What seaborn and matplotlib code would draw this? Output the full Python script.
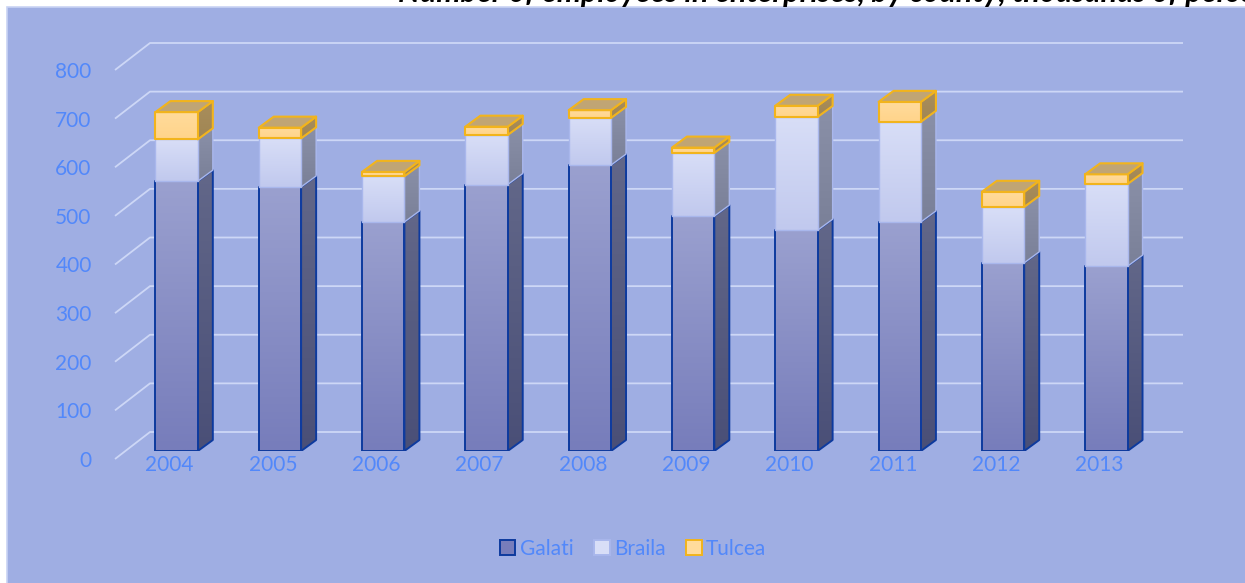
import numpy as np
import pandas as pd
import matplotlib
matplotlib.use("Agg")
import matplotlib.pyplot as plt
import seaborn as sns
from matplotlib.patches import Polygon, Rectangle, Patch
from matplotlib.transforms import ScaledTranslation
from matplotlib.colors import to_rgb

# ---- data -------------------------------------------------------------
years = ["2004", "2005", "2006", "2007", "2008", "2009", "2010", "2011", "2012", "2013"]
galati = [555, 543, 471, 548, 588, 483, 454, 471, 387, 380]
braila = [86, 100, 94, 102, 97, 130, 233, 206, 115, 169]
tulcea = [56, 22, 9, 17, 16, 11, 23, 41, 31, 20]
y_ticks = [0, 100, 200, 300, 400, 500, 600, 700, 800]
series_names = ["Galati", "Braila", "Tulcea"]
title_text = "Number of employees in enterprises, by county, thousands of persons"

# ---- styling ----------------------------------------------------------
W, H, DPI = 1245, 583, 100
BG = "#9FAEE3"
GRID = "#CDD7F6"
TXT = "#5288FA"
DEPTH = (15, 11)  # bar depth offset in pixels (right, up)

styles = {
    "Galati": dict(front=("#9AA0CF", "#777DBB"), side=("#626789", "#4A4F77"),
                   edge="#0D3A9E", lw=1.4),
    "Braila": dict(front=("#D8DEF7", "#C1C9EE"), side=("#8A90A8", "#7A8098"),
                   edge="#A9B7EC", lw=1.0),
    "Tulcea": dict(front=("#FFDB9C", "#FFD48A"), side=("#A98E5C", "#A08654"),
                   top="#C0A574", edge="#F2B41C", lw=1.5),
}

sns.set_style("white")
plt.rcParams["font.family"] = ["Lato", "DejaVu Sans"]

fig = plt.figure(figsize=(W / DPI, H / DPI), dpi=DPI, facecolor="white")
fig.add_artist(Rectangle((7 / W, -0.01), 1.0, 1.01 - 7 / H, transform=fig.transFigure,
                         facecolor=BG, edgecolor="#C9D3F3", lw=1.2, zorder=0))

ax_left, ax_right, ax_bottom, ax_top = 125, 1158, 451, 62
ax = fig.add_axes([ax_left / W, (H - ax_bottom) / H, (ax_right - ax_left) / W,
                   (ax_bottom - ax_top) / H])
ax.set_facecolor("none")
for s in ax.spines.values():
    s.set_visible(False)

galati_a = np.array(galati, dtype=float)
braila_a = np.array(braila, dtype=float)
tulcea_a = np.array(tulcea, dtype=float)
layers = [
    ("Galati", galati_a, np.zeros(len(years))),
    ("Braila", braila_a, galati_a),
    ("Tulcea", tulcea_a, galati_a + braila_a),
]

for name, vals, bottom in layers:
    sns.barplot(x=years, y=vals, bottom=bottom, order=years, ax=ax, width=0.41,
                color=styles[name]["front"][0], saturation=1, errorbar=None)

ax.set_xlim(-0.5, len(years) - 0.5)
ax.set_ylim(0, 800)
ax.set_yticks(y_ticks)
ax.set_xlabel("")
ax.set_ylabel("")

tD = ax.transData
inv = tD.inverted()


def gradient(c_top, c_bot, n=64):
    a, b = np.array(to_rgb(c_top)), np.array(to_rgb(c_bot))
    t = np.linspace(0, 1, n)[:, None]
    return (a * (1 - t) + b * t)[:, None, :]


def offset_poly(pts_data, shifts):
    disp = tD.transform(pts_data)
    disp = disp + np.array(shifts)
    return inv.transform(disp)


dx, dy = DEPTH
n = len(years)
bars = list(ax.patches)
for k, (name, vals, bottom) in enumerate(layers):
    st = styles[name]
    top_layer = k == len(layers) - 1
    for i in range(n):
        rect = bars[k * n + i]
        x0, y0 = rect.get_x(), rect.get_y()
        x1, y1 = x0 + rect.get_width(), y0 + rect.get_height()
        zb = 3 + 4 * k

        # right side face
        side = offset_poly([(x1, y0), (x1, y1), (x1, y1), (x1, y0)],
                           [(0, 0), (0, 0), (dx, dy), (dx, dy)])
        side_poly = Polygon(side, closed=True, facecolor="none", edgecolor=st["edge"],
                            lw=st["lw"], joinstyle="round", zorder=zb + 1)
        ax.add_patch(side_poly)
        im = ax.imshow(gradient(*st["side"]), extent=(side[:, 0].min(), side[:, 0].max(),
                                                     side[:, 1].min(), side[:, 1].max()),
                       aspect="auto", interpolation="bilinear", zorder=zb)
        im.set_clip_path(side_poly)

        # front face
        rect.set_facecolor("none")
        rect.set_edgecolor(st["edge"])
        rect.set_linewidth(st["lw"])
        rect.set_joinstyle("round")
        rect.set_zorder(zb + 3)
        im = ax.imshow(gradient(*st["front"]), extent=(x0, x1, y0, y1), aspect="auto",
                       interpolation="bilinear", zorder=zb + 2)
        im.set_clip_path(rect)

        # top face of the stack
        if top_layer:
            top = offset_poly([(x0, y1), (x1, y1), (x1, y1), (x0, y1)],
                              [(0, 0), (0, 0), (dx, dy), (dx, dy)])
            ax.add_patch(Polygon(top, closed=True, facecolor=st["top"], edgecolor=st["edge"],
                                 lw=st["lw"], joinstyle="round", zorder=zb + 3))

ax.set_xlim(-0.5, len(years) - 0.5)
ax.set_ylim(0, 800)

# back wall gridlines with slanted lead-ins
ytrans = ax.get_yaxis_transform()
for v in y_ticks:
    base = ytrans.transform([(0, v), (1, v)])
    xl, yv = base[0]
    xr = base[1][0]
    pts = np.array([(xl - 10, yv - 8), (xl + 25, yv + 19), (xr + 25, yv + 19)])
    data_pts = inv.transform(pts)
    ax.plot(data_pts[:, 0], data_pts[:, 1], color=GRID, lw=1.3, zorder=1,
            solid_capstyle="butt", clip_on=False)

# tick labels
ax.tick_params(axis="both", length=0, labelsize=15, labelcolor=TXT)
ax.tick_params(axis="y", pad=24)
ax.tick_params(axis="x", pad=3)
for lab in ax.get_yticklabels():
    lab.set_transform(lab.get_transform() + ScaledTranslation(0, -8 / DPI, fig.dpi_scale_trans))
for lab in ax.get_xticklabels():
    lab.set_transform(lab.get_transform() + ScaledTranslation(-7 / DPI, 0, fig.dpi_scale_trans))

# legend
handles = [Patch(facecolor=styles[s]["front"][1] if s == "Galati" else styles[s]["front"][0],
                 edgecolor=styles[s]["edge"], lw=1.4) for s in series_names]
fig.legend(handles, series_names, loc="center", bbox_to_anchor=(633 / W, 34 / H), ncol=3,
           frameon=False, fontsize=15, labelcolor=TXT, handlelength=0.75, handleheight=0.75,
           handletextpad=0.2, columnspacing=1.0)

# heading, running off the top edge
fig.text(398 / W, 1 - 2 / H, title_text, fontsize=22, fontweight="bold", fontstyle="italic",
         ha="left", va="baseline", color="black")

fig.savefig("out.png", dpi=DPI, facecolor="white")
